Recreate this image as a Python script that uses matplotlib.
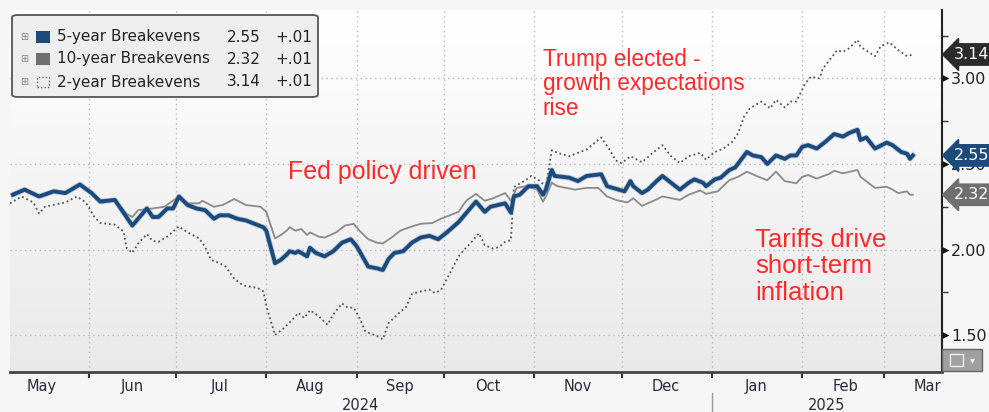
import matplotlib.pyplot as plt
import matplotlib.dates as mdates
import matplotlib.patheffects as pe
import numpy as np
import pandas as pd
from matplotlib.colors import LinearSegmentedColormap
from matplotlib.markers import MarkerStyle
from matplotlib.path import Path
from matplotlib.patches import FancyBboxPatch, Rectangle
from matplotlib.transforms import blended_transform_factory

# ---- data ----
dates_5y = [
    "2024-05-06", "2024-05-10", "2024-05-15", "2024-05-20", "2024-05-24", "2024-05-29",
    "2024-06-02", "2024-06-05", "2024-06-10", "2024-06-14", "2024-06-16", "2024-06-18",
    "2024-06-21", "2024-06-23", "2024-06-25", "2024-06-28", "2024-06-30",
    "2024-07-02", "2024-07-05", "2024-07-08", "2024-07-11", "2024-07-14", "2024-07-16",
    "2024-07-19", "2024-07-22", "2024-07-25", "2024-07-31",
    "2024-08-01", "2024-08-04", "2024-08-06", "2024-08-08", "2024-08-09", "2024-08-11",
    "2024-08-12", "2024-08-15", "2024-08-16", "2024-08-18", "2024-08-21", "2024-08-24",
    "2024-08-27", "2024-08-30",
    "2024-09-01", "2024-09-03", "2024-09-05", "2024-09-08", "2024-09-10", "2024-09-12",
    "2024-09-14", "2024-09-17", "2024-09-20", "2024-09-23", "2024-09-26", "2024-09-29",
    "2024-10-02", "2024-10-06", "2024-10-08", "2024-10-12", "2024-10-15", "2024-10-17",
    "2024-10-22", "2024-10-24", "2024-10-25", "2024-10-27", "2024-10-30",
    "2024-11-02", "2024-11-04", "2024-11-05", "2024-11-07", "2024-11-08", "2024-11-13",
    "2024-11-16", "2024-11-19", "2024-11-24", "2024-11-26", "2024-11-30",
    "2024-12-02", "2024-12-04", "2024-12-05", "2024-12-08", "2024-12-10", "2024-12-13",
    "2024-12-15", "2024-12-18", "2024-12-21", "2024-12-24", "2024-12-26", "2024-12-29",
    "2024-12-30",
    "2025-01-02", "2025-01-04", "2025-01-07", "2025-01-09", "2025-01-13", "2025-01-15",
    "2025-01-18", "2025-01-20", "2025-01-23", "2025-01-26", "2025-01-28", "2025-01-30",
    "2025-02-01", "2025-02-03", "2025-02-06", "2025-02-09", "2025-02-12", "2025-02-15",
    "2025-02-17", "2025-02-20", "2025-02-21", "2025-02-23", "2025-02-26",
    "2025-03-02", "2025-03-04", "2025-03-07", "2025-03-09", "2025-03-10", "2025-03-11",
]
be_5y = [
    2.32, 2.35, 2.31, 2.34, 2.33, 2.38,
    2.33, 2.28, 2.29, 2.19, 2.14, 2.18, 2.24, 2.19, 2.19, 2.24, 2.24,
    2.31, 2.26, 2.24, 2.23, 2.18, 2.20, 2.20, 2.18, 2.17, 2.13,
    2.11, 1.92, 1.94, 1.97, 1.99, 1.98, 1.99, 1.96, 2.01, 1.98, 1.96, 1.99, 2.04, 2.06,
    2.02, 1.96, 1.90, 1.89, 1.88, 1.945, 1.98, 1.99, 2.04, 2.07, 2.08, 2.06,
    2.10, 2.16, 2.20, 2.28, 2.22, 2.25, 2.27, 2.215, 2.31, 2.32, 2.37,
    2.37, 2.32, 2.35, 2.465, 2.43, 2.42, 2.40, 2.43, 2.44, 2.37, 2.35,
    2.34, 2.40, 2.37, 2.33, 2.35, 2.40, 2.43, 2.39, 2.35, 2.39, 2.41, 2.39, 2.37,
    2.41, 2.42, 2.465, 2.48, 2.57, 2.55, 2.54, 2.50, 2.55, 2.53, 2.55, 2.55,
    2.60, 2.61, 2.59, 2.63, 2.675, 2.66, 2.68, 2.70, 2.64, 2.655, 2.59,
    2.625, 2.61, 2.57, 2.56, 2.53, 2.55,
]

dates_10y = [
    "2024-05-06", "2024-05-10", "2024-05-15", "2024-05-20", "2024-05-24", "2024-05-29",
    "2024-06-02", "2024-06-05", "2024-06-10", "2024-06-14", "2024-06-16", "2024-06-18",
    "2024-06-23", "2024-06-27",
    "2024-07-02", "2024-07-05", "2024-07-09", "2024-07-10", "2024-07-14", "2024-07-17",
    "2024-07-21", "2024-07-25", "2024-07-30",
    "2024-08-01", "2024-08-04", "2024-08-06", "2024-08-08", "2024-08-09", "2024-08-11",
    "2024-08-13", "2024-08-15", "2024-08-16", "2024-08-19", "2024-08-21", "2024-08-25",
    "2024-08-28", "2024-08-31",
    "2024-09-02", "2024-09-05", "2024-09-08", "2024-09-10", "2024-09-13", "2024-09-16",
    "2024-09-20", "2024-09-23", "2024-09-27", "2024-09-30",
    "2024-10-03", "2024-10-06", "2024-10-08", "2024-10-09", "2024-10-12", "2024-10-15",
    "2024-10-18", "2024-10-22", "2024-10-24", "2024-10-26", "2024-10-29",
    "2024-11-02", "2024-11-04", "2024-11-05", "2024-11-07", "2024-11-09", "2024-11-15",
    "2024-11-19", "2024-11-23", "2024-11-26", "2024-11-29",
    "2024-12-03", "2024-12-05", "2024-12-08", "2024-12-12", "2024-12-15", "2024-12-18",
    "2024-12-21", "2024-12-24", "2024-12-28", "2024-12-30",
    "2025-01-03", "2025-01-07", "2025-01-10", "2025-01-13", "2025-01-17", "2025-01-20",
    "2025-01-23", "2025-01-26", "2025-01-30",
    "2025-02-01", "2025-02-03", "2025-02-06", "2025-02-10", "2025-02-12", "2025-02-15",
    "2025-02-20", "2025-02-21", "2025-02-26",
    "2025-03-02", "2025-03-04", "2025-03-06", "2025-03-09", "2025-03-10", "2025-03-11",
]
be_10y = [
    2.33, 2.35, 2.31, 2.34, 2.33, 2.38,
    2.33, 2.29, 2.29, 2.21, 2.19, 2.23, 2.24, 2.25,
    2.31, 2.27, 2.27, 2.285, 2.25, 2.26, 2.295, 2.26, 2.25,
    2.22, 2.065, 2.085, 2.11, 2.13, 2.11, 2.12, 2.085, 2.10, 2.075, 2.07, 2.10, 2.14, 2.15,
    2.11, 2.06, 2.04, 2.035, 2.07, 2.11, 2.135, 2.15, 2.155, 2.18,
    2.20, 2.22, 2.27, 2.29, 2.325, 2.285, 2.30, 2.33, 2.285, 2.36, 2.37,
    2.35, 2.28, 2.31, 2.39, 2.37, 2.35, 2.36, 2.36, 2.31, 2.29,
    2.275, 2.30, 2.255, 2.285, 2.31, 2.30, 2.29, 2.32, 2.345, 2.325,
    2.34, 2.405, 2.425, 2.455, 2.425, 2.405, 2.455, 2.40, 2.387,
    2.425, 2.435, 2.415, 2.44, 2.46, 2.445, 2.465, 2.425, 2.36,
    2.367, 2.35, 2.33, 2.34, 2.32, 2.32,
]

dates_2y = [
    "2024-05-05", "2024-05-09", "2024-05-13", "2024-05-15", "2024-05-17", "2024-05-21",
    "2024-05-24", "2024-05-28", "2024-05-31",
    "2024-06-03", "2024-06-05", "2024-06-10", "2024-06-13", "2024-06-14", "2024-06-16",
    "2024-06-18", "2024-06-21", "2024-06-23", "2024-06-25", "2024-06-28",
    "2024-07-02", "2024-07-05", "2024-07-09", "2024-07-11", "2024-07-13", "2024-07-16",
    "2024-07-18", "2024-07-21", "2024-07-24", "2024-07-29", "2024-07-31",
    "2024-08-01", "2024-08-04", "2024-08-07", "2024-08-10", "2024-08-12", "2024-08-14",
    "2024-08-16", "2024-08-19", "2024-08-22", "2024-08-24", "2024-08-27", "2024-08-29",
    "2024-08-31",
    "2024-09-02", "2024-09-04", "2024-09-08", "2024-09-10", "2024-09-12", "2024-09-15",
    "2024-09-18", "2024-09-20", "2024-09-23", "2024-09-26", "2024-09-28", "2024-09-30",
    "2024-10-03", "2024-10-06", "2024-10-08", "2024-10-10", "2024-10-13", "2024-10-15",
    "2024-10-18", "2024-10-20", "2024-10-22", "2024-10-24", "2024-10-25", "2024-10-27",
    "2024-10-29", "2024-10-31",
    "2024-11-03", "2024-11-05", "2024-11-07", "2024-11-09", "2024-11-13", "2024-11-16",
    "2024-11-19", "2024-11-24", "2024-11-27", "2024-11-29",
    "2024-12-01", "2024-12-04", "2024-12-08", "2024-12-11", "2024-12-15", "2024-12-18",
    "2024-12-21", "2024-12-24", "2024-12-28", "2024-12-30",
    "2025-01-02", "2025-01-05", "2025-01-08", "2025-01-10", "2025-01-12", "2025-01-14",
    "2025-01-18", "2025-01-21", "2025-01-23", "2025-01-26", "2025-01-28", "2025-01-30",
    "2025-02-02", "2025-02-04", "2025-02-07", "2025-02-08", "2025-02-13", "2025-02-15",
    "2025-02-17", "2025-02-20", "2025-02-21", "2025-02-26", "2025-02-28",
    "2025-03-03", "2025-03-06", "2025-03-09", "2025-03-11",
]
be_2y = [
    2.27, 2.31, 2.275, 2.21, 2.25, 2.265, 2.275, 2.31, 2.275,
    2.19, 2.155, 2.145, 2.105, 2.01, 1.98, 2.035, 2.09, 2.05, 2.045, 2.075,
    2.135, 2.10, 2.065, 2.015, 1.94, 1.92, 1.90, 1.83, 1.79, 1.775, 1.755,
    1.67, 1.50, 1.54, 1.59, 1.63, 1.60, 1.645, 1.61, 1.56, 1.62, 1.685, 1.66, 1.66,
    1.60, 1.52, 1.495, 1.475, 1.57, 1.62, 1.665, 1.74, 1.755, 1.765, 1.745, 1.765,
    1.86, 1.96, 2.00, 2.035, 2.095, 2.025, 2.005, 2.015, 2.045, 2.055, 2.365, 2.385,
    2.405, 2.43,
    2.40, 2.365, 2.58, 2.565, 2.545, 2.565, 2.585, 2.655, 2.58, 2.52,
    2.505, 2.545, 2.51, 2.555, 2.61, 2.545, 2.505, 2.545, 2.565, 2.525,
    2.57, 2.59, 2.63, 2.68, 2.775, 2.825, 2.865, 2.825, 2.875, 2.83, 2.865, 2.865,
    2.97, 3.01, 3.00, 3.055, 3.165, 3.155, 3.175, 3.225, 3.185, 3.13, 3.19,
    3.21, 3.165, 3.13, 3.14,
]

legend_names = ["5-year Breakevens", "10-year Breakevens", "2-year Breakevens"]
legend_changes = ["+.01", "+.01", "+.01"]
year_labels = ["2024", "2025"]
notes = ["Trump elected -\ngrowth expectations\nrise", "Fed policy driven",
         "Tariffs drive\nshort-term\ninflation"]

assert len(dates_5y) == len(be_5y)
assert len(dates_10y) == len(be_10y)
assert len(dates_2y) == len(be_2y)

navy = "#1c4a7a"
grey = "#8a8a8a"
dark = "#555555"
red = "#ff2b2b"
txt = "#2a2a3a"

W, H = 989, 412
fig = plt.figure(figsize=(W / 100, H / 100), dpi=100, facecolor="#f6f6f6")
ax = fig.add_axes([10 / W, 40 / H, 932 / W, 362 / H])

# soft vertical background gradient
bg = LinearSegmentedColormap.from_list("bg", ["#ffffff", "#e9e9e9"])
ax.imshow(np.linspace(0, 1, 256).reshape(-1, 1), cmap=bg, aspect="auto",
          extent=[0, 1, 0, 1], transform=ax.transAxes, zorder=0)

d5 = pd.to_datetime(dates_5y)
d10 = pd.to_datetime(dates_10y)
d2 = pd.to_datetime(dates_2y)

ax.plot(d10, be_10y, color=grey, lw=1.3, zorder=3)
ax.plot(d2, be_2y, color=dark, lw=1.3, ls=(0, (1, 1.6)), zorder=3)
ax.plot(d5, be_5y, color=navy, lw=2.8, zorder=4, solid_joinstyle="round",
        path_effects=[pe.Stroke(linewidth=4, foreground="#8aa6c4", alpha=0.5), pe.Normal()])

ax.set_xlim(pd.Timestamp("2024-05-05"), pd.Timestamp("2025-03-21"))
ax.set_ylim(1.284, 3.40)

for s in ("left", "top"):
    ax.spines[s].set_visible(False)
ax.spines["right"].set_color("#222222")
ax.spines["right"].set_linewidth(1.5)
ax.spines["bottom"].set_color("#444444")
ax.spines["bottom"].set_linewidth(2)

# x axis: ticks at month starts, labels mid-month
ax.xaxis.set_major_locator(mdates.MonthLocator())
ax.xaxis.set_major_formatter(plt.NullFormatter())
ax.xaxis.set_minor_locator(mdates.MonthLocator(bymonthday=16))
ax.xaxis.set_minor_formatter(mdates.DateFormatter("%b"))
ax.tick_params(axis="x", which="major", direction="out", length=4, width=1.5, color="#333333")
ax.tick_params(axis="x", which="minor", length=0, pad=5, labelsize=10.5, labelcolor=txt)

# y axis on the right
ax.yaxis.tick_right()
ax.set_yticks([1.5, 2.0, 2.5, 3.0])
ax.set_yticks([1.75, 2.25, 2.75, 3.25], minor=True)
ax.yaxis.set_major_formatter(plt.FormatStrFormatter("%.2f"))
ax.tick_params(axis="y", which="major", length=5, pad=1.5, labelsize=11.5, labelcolor="#222222",
               color="#111111")
ax.tick_params(axis="y", which="minor", length=4, width=1, color="#333333", direction="out")
tri = MarkerStyle(Path([(0, -1), (2, 0), (0, 1), (0, -1)]))
for t in ax.yaxis.get_major_ticks():
    t.tick2line.set_marker(tri)
    t.tick2line.set_markersize(10)
    t.tick2line.set_markerfacecolor("#111111")
    t.tick2line.set_markeredgewidth(0)

ax.grid(True, which="major", color="#b4b8c6", ls=(0, (1, 2.5)), lw=1)

# year labels under the month labels
jan1 = pd.Timestamp("2025-01-01")
xl = ax.get_xlim()
tr = blended_transform_factory(ax.transData, ax.transAxes)
ax.plot([jan1, jan1], [-0.058, -0.115], transform=tr, color="#999999", lw=1, clip_on=False)
spans = [(xl[0], mdates.date2num(jan1)), (mdates.date2num(jan1), xl[1])]
for lab, (a, b) in zip(year_labels, spans):
    ax.text((a + b) / 2, -0.092, lab, transform=tr, ha="center", va="center",
            fontsize=10.5, color=txt, clip_on=False)

# last-value tags on the right axis (they sit over the axis labels, as on screen)
ytr = ax.get_yaxis_transform()
for vals, col in [(be_2y, "#2b2b2b"), (be_5y, navy), (be_10y, "#6f6f6f")]:
    ax.text(1.013, vals[-1], f"{vals[-1]:.2f}", transform=ytr, ha="left", va="center",
            fontsize=11.5, color="white", clip_on=False, zorder=6,
            bbox=dict(boxstyle="larrow,pad=0.2", fc=col, ec=col))

# legend box (Bloomberg style)
fx = lambda px: px / W
fy = lambda py: 1 - py / H
fig.add_artist(FancyBboxPatch((fx(12), fy(97)), fx(306), 82 / H,
                              boxstyle="round,pad=0,rounding_size=0.006",
                              transform=fig.transFigure, fc="#eeeeee", ec="#555555", lw=1.3))
rows = [37, 59, 82]
last_vals = [be_5y[-1], be_10y[-1], be_2y[-1]]
for i, (name, chg, v, row) in enumerate(zip(legend_names, legend_changes, last_vals, rows)):
    fig.text(fx(24), fy(row), "\u229e", fontsize=7, color="#888888", ha="center", va="center")
    if i < 2:
        sq = Rectangle((fx(36), fy(row + 6)), fx(14), 12 / H, transform=fig.transFigure,
                       fc=[navy, "#707070"][i], ec="none")
    else:
        sq = Rectangle((fx(37), fy(row + 5)), fx(12), 10 / H, transform=fig.transFigure,
                       fc="none", ec="#666666", lw=1, ls=(0, (1, 1.5)))
    fig.add_artist(sq)
    fig.text(fx(57), fy(row), name, fontsize=11, color="#222222", va="center")
    fig.text(fx(227), fy(row), f"{v:.2f}", fontsize=11, color="#222222", va="center")
    fig.text(fx(275), fy(row), chg, fontsize=11, color="#222222", va="center")

# red commentary
fig.text(fx(543), fy(48), notes[0], ha="left", va="top", family="Liberation Sans",
         fontsize=16.3, color=red, linespacing=1.08)
fig.text(fx(288), fy(172), notes[1], ha="left", va="center", family="Liberation Sans",
         fontsize=18, color=red)
fig.text(fx(755), fy(228), notes[2], ha="left", va="top", family="Liberation Sans",
         fontsize=18.5, color=red, linespacing=1.13)

# little chart-type button bottom right
fig.add_artist(Rectangle((fx(942), fy(371)), fx(40), 22 / H, transform=fig.transFigure,
                         fc="#a0a0a0", ec="#666666", lw=1))
fig.add_artist(Rectangle((fx(950), fy(366)), fx(13), 12 / H, transform=fig.transFigure,
                         fc="none", ec="#eeeeee", lw=1))
fig.text(fx(972), fy(360), "\u25be", fontsize=7, color="#eeeeee", ha="center", va="center")

fig.savefig("out.png", dpi=100, facecolor=fig.get_facecolor())
